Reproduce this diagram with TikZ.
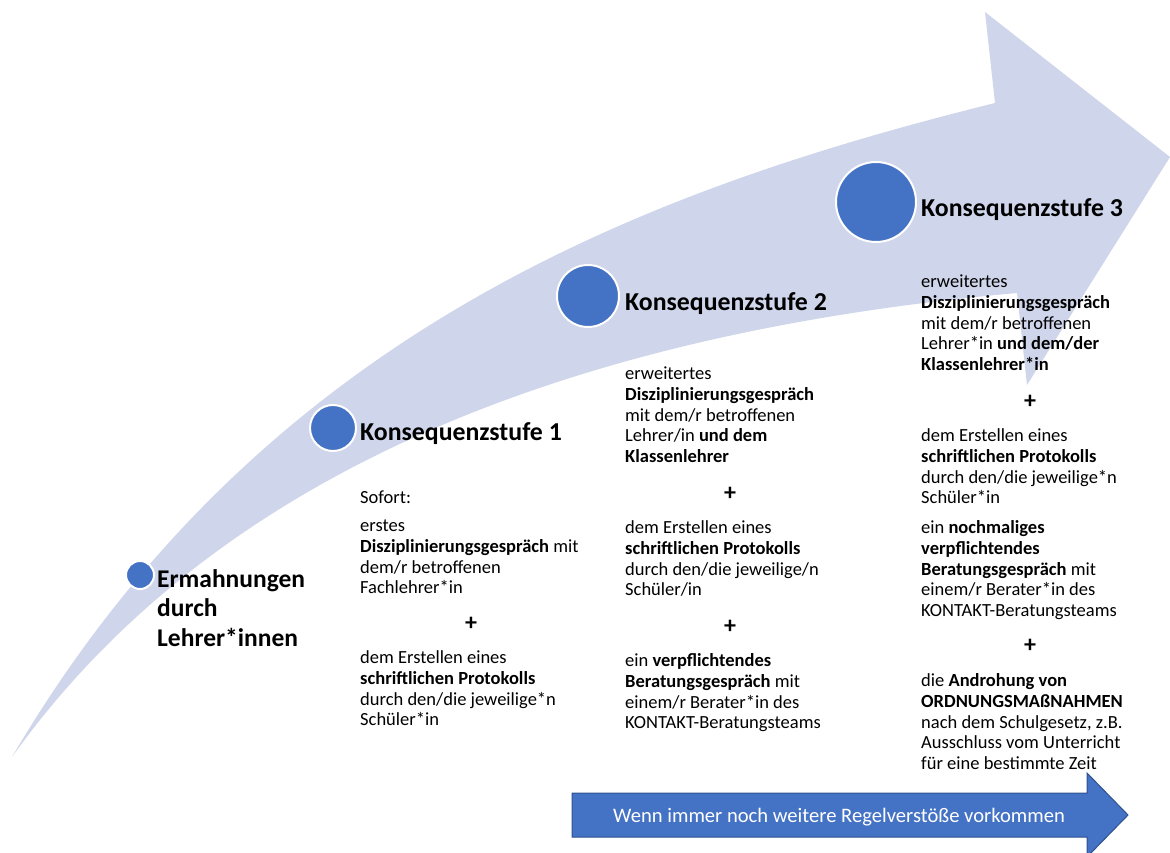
\documentclass[tikz,border=0pt]{standalone}
\usepackage{fontspec}
\setmainfont{Carlito}
\definecolor{bandfill}{HTML}{CFD5EA}
\definecolor{dotblue}{HTML}{4472C4}
\definecolor{dotedge}{HTML}{2F528F}
\begin{document}
\begin{tikzpicture}[x=1pt,y=-1pt,
  dot/.style={circle,fill=dotblue,draw=white,line width=2pt,inner sep=0pt},
  title/.style={anchor=base west,inner sep=0pt,font=\fontsize{25.8}{30}\selectfont\bfseries},
  body/.style={anchor=north west,inner sep=0pt,align=left,yshift=14.63pt,font=\fontsize{18.5}{20.9}\selectfont},
  plus/.style={anchor=base,inner sep=0pt,font=\fontsize{24}{26}\selectfont\bfseries},
  first/.style={anchor=north west,inner sep=0pt,align=left,yshift=20.65pt,font=\fontsize{25.5}{29.5}\selectfont\bfseries}
]
\useasboundingbox (0,0) rectangle (1170,853);
% big curved arrow
\fill[bandfill] (12,757) .. controls (262,332) and (645,190) .. (995,103)
  -- (985,12) -- (1170,157) -- (1027,385) -- (1017,293)
  .. controls (617,329) and (232,449) .. (12,757) -- cycle;
% dots
\node[dot,minimum size=28pt] (d0) at (140,575) {};
\node[dot,minimum size=46pt] (d1) at (333,428) {};
\node[dot,minimum size=62pt] (d2) at (588,296) {};
\node[dot,minimum size=80pt] (d3) at (876,202) {};
% stage 0
\node[first] (t0) at (157,587) {\strut Ermahnungen\\durch\\Lehrer*innen};
% stage 1
\node[title] (t1) at (360,440) {Konsequenzstufe 1};
\node[body] (s1) at (360,503) {\strut Sofort:};
\node[body] (a1) at (360,531) {\strut erstes\\\textbf{Disziplinierungsgespräch} mit\\dem/r betroffenen\\Fachlehrer*in};
\node[plus] (p1) at (471,630) {+};
\node[body] (b1) at (360,663) {\strut dem Erstellen eines\\\textbf{schriftlichen Protokolls}\\durch den/die jeweilige*n\\Schüler*in};
% stage 2
\node[title] (t2) at (625,310) {Konsequenzstufe 2};
\node[body] (a2) at (625,379) {\strut erweitertes\\\textbf{Disziplinierungsgespräch}\\mit dem/r betroffenen\\Lehrer/in \textbf{und dem}\\\textbf{Klassenlehrer}};
\node[plus] (p2a) at (730,500) {+};
\node[body] (b2) at (625,533) {\strut dem Erstellen eines\\\textbf{schriftlichen Protokolls}\\durch den/die jeweilige/n\\Schüler/in};
\node[plus] (p2b) at (730,633) {+};
\node[body] (c2) at (625,666) {\strut ein \textbf{verpflichtendes}\\\textbf{Beratungsgespräch} mit\\einem/r Berater*in des\\KONTAKT-Beratungsteams};
% stage 3
\node[title] (t3) at (921,217) {Konsequenzstufe 3};
\node[body] (a3) at (921,287) {\strut erweitertes\\\textbf{Disziplinierungsgespräch}\\mit dem/r betroffenen\\Lehrer*in \textbf{und dem/der}\\\textbf{Klassenlehrer*in}};
\node[plus] (p3a) at (1030,408) {+};
\node[body] (b3) at (921,441) {\strut dem Erstellen eines\\\textbf{schriftlichen Protokolls}\\durch den/die jeweilige*n\\Schüler*in};
\node[body] (c3) at (921,533) {\strut ein \textbf{nochmaliges}\\\textbf{verpflichtendes}\\\textbf{Beratungsgespräch} mit\\einem/r Berater*in des\\KONTAKT-Beratungsteams};
\node[plus] (p3b) at (1030,652) {+};
\node[body] (e3) at (921,686) {\strut die \textbf{Androhung von}\\\textbf{ORDNUNGSMAßNAHMEN}\\nach dem Schulgesetz, z.B.\\Ausschluss vom Unterricht\\für eine bestimmte Zeit};
% bottom arrow
\draw[fill=dotblue,draw=dotedge,line width=1pt] (572,793) -- (1087,793) -- (1087,773) -- (1128,815) -- (1087,857) -- (1087,837) -- (572,837) -- cycle;
\node[anchor=base,inner sep=0pt,text=white,font=\fontsize{20.6}{24}\selectfont] (w) at (839,822) {Wenn immer noch weitere Regelverstöße vorkommen};
\end{tikzpicture}
\end{document}
